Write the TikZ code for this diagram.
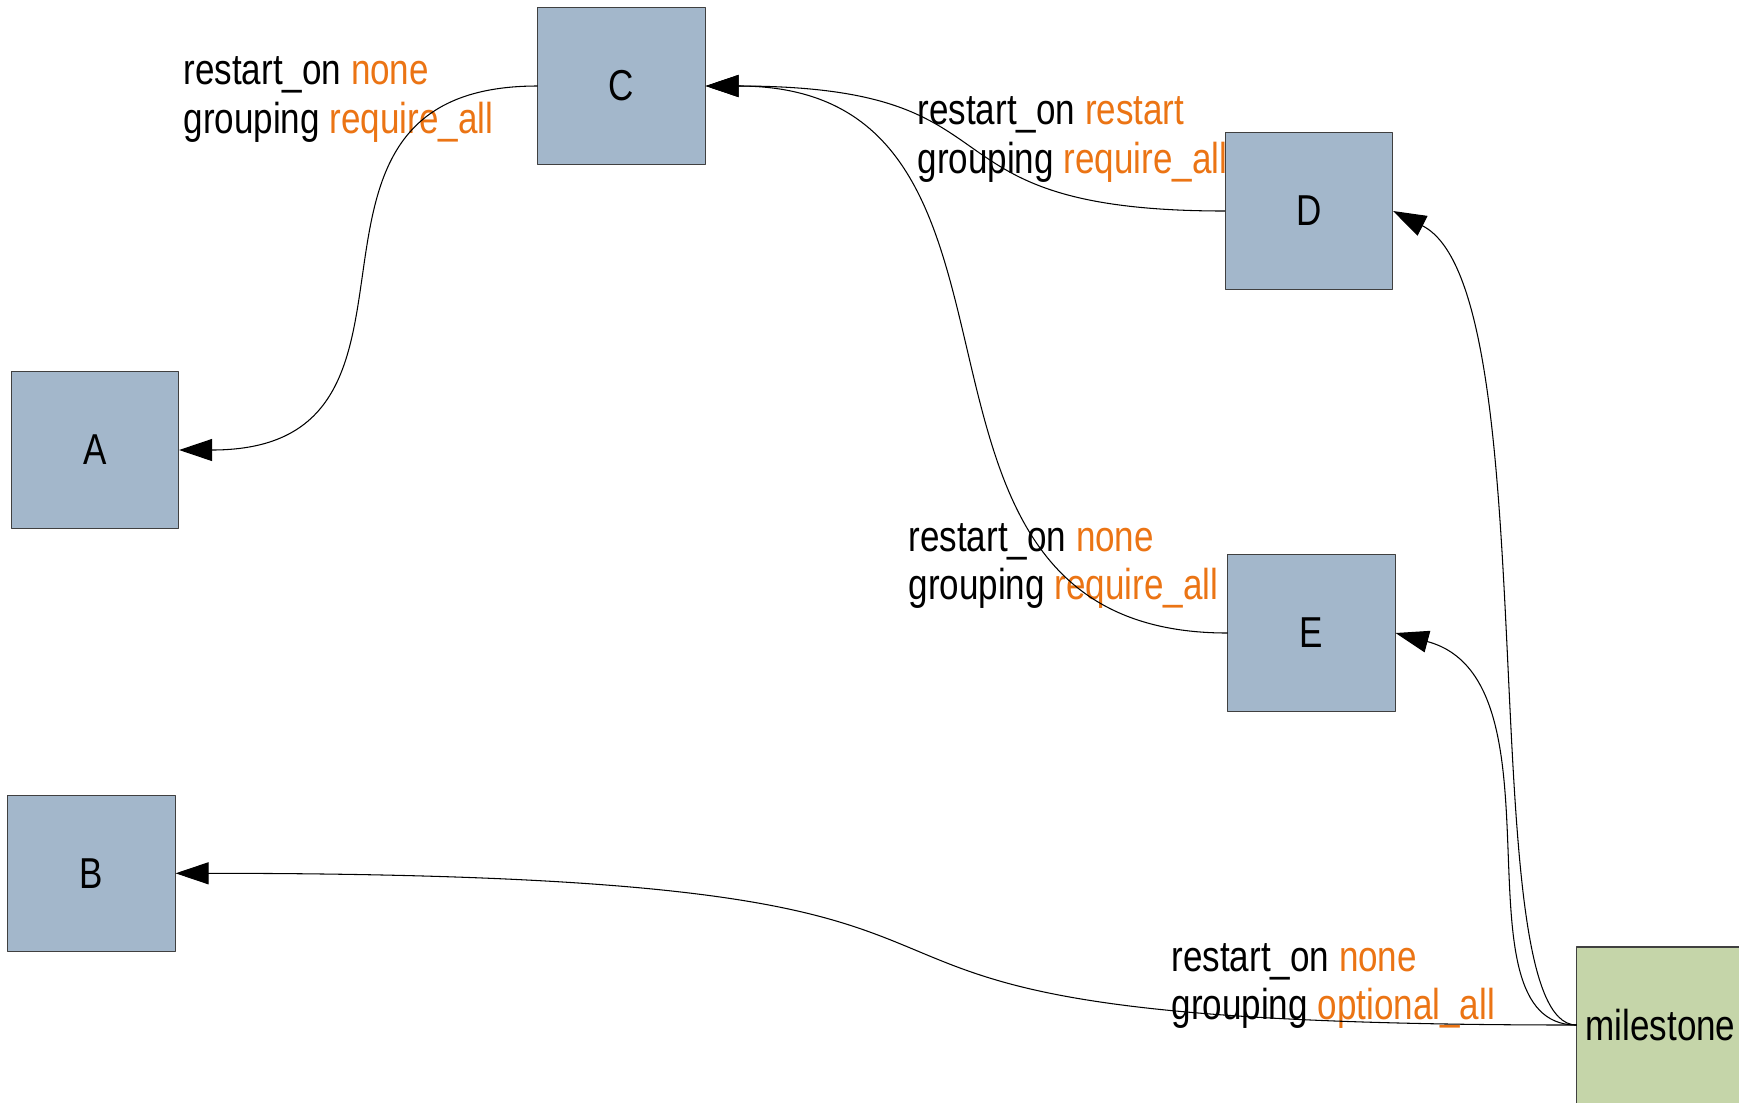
\documentclass[tikz,border=0pt]{standalone}
\usepackage{fontspec}
\setmainfont{Liberation Sans}[FakeStretch=0.81]
\usetikzlibrary{arrows.meta}
\definecolor{boxblue}{HTML}{A3B7CB}
\definecolor{msgreen}{HTML}{C5D5A9}
\definecolor{valorange}{HTML}{EB7414}
\newcommand\lblfont{\fontsize{12.3}{13.9}\selectfont}
\newcommand\optval[1]{\textcolor{valorange}{#1}}

\begin{document}
\begin{tikzpicture}[line cap=round,line join=round,>={Triangle[length=3.3mm,width=2.2mm]},x=0.01cm,y=-0.01cm,
  box/.style={draw=black!75,fill=boxblue,minimum width=1.67cm,minimum height=1.56cm,inner sep=0pt,font=\lblfont},
  msbox/.style={box,fill=msgreen},
  lbl/.style={anchor=west,align=left,inner sep=0pt,font=\lblfont},
  every path/.style={line width=0.3pt}]
\useasboundingbox (0,0) rectangle (1739,1102);
\node [box] (A) at (95,450) {A};
\node [box] (B) at (91.5,873.3) {B};
\node [box] (C) at (621.5,86) {C};
\node [box] (D) at (1309,211) {D};
\node [box] (E) at (1311.5,633) {E};
\node [msbox] (M) at (1660.5,1025) {milestone};
% edge labels
\node [lbl] (lblCA) at (183,99.5) {restart\_on \optval{none}\\grouping \optval{require\_all}};
\node [lbl] (lblDC) at (917,139.5) {restart\_on \optval{restart}\\grouping \optval{require\_all}};
\node [lbl] (lblEC) at (908,566) {restart\_on \optval{none}\\grouping \optval{require\_all}};
\node [lbl] (lblMB) at (1171,986) {restart\_on \optval{none}\\grouping \optval{optional\_all}};
% edges
\draw [->] (C.west) .. controls +(-288,0) and +(291,0) .. (A.east);
\draw [->] (D.west) .. controls +(-320,0) and +(330,0) .. (C.east);
\draw [->] (E.west) .. controls +(-378,0) and +(375,0) .. (C.east);
\draw [->] (M.west) .. controls +(-107,0) and +(157,79) .. (D.east);
\draw [->] (M.west) .. controls +(-127,0) and +(175,47) .. (E.east);
\draw [->] (M.west) .. controls +(-977,0) and +(1065,0) .. (B.east);
\end{tikzpicture}
\end{document}
